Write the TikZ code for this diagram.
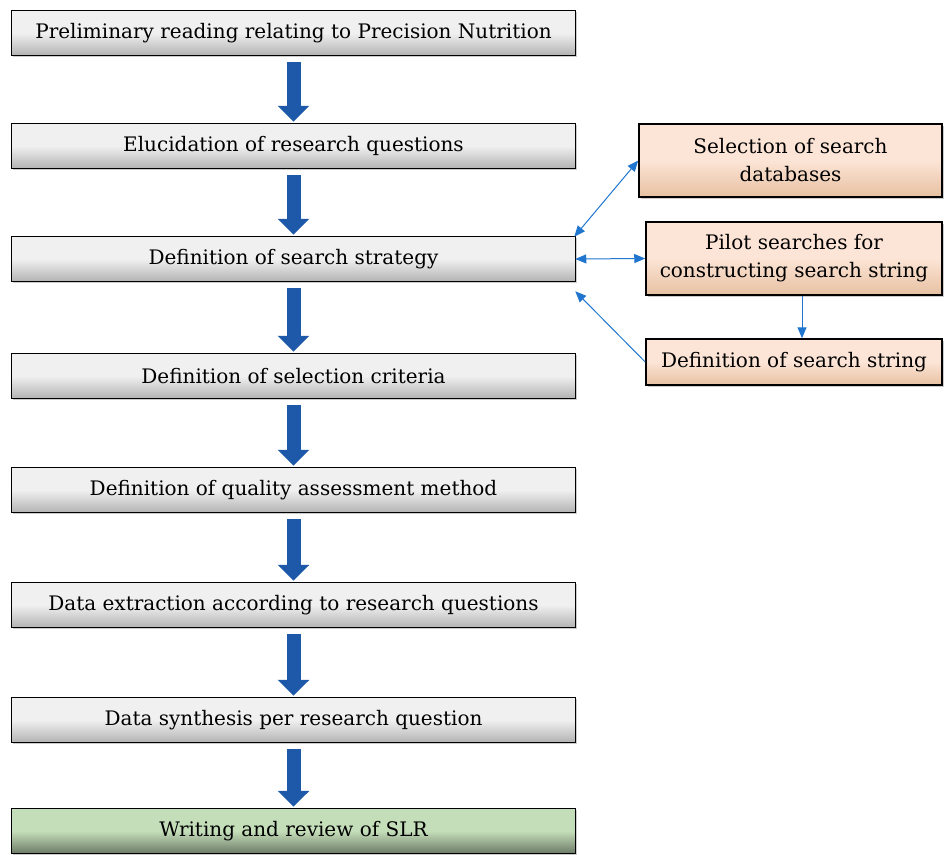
\documentclass[tikz,border=0pt]{standalone}
\usepackage{fontspec}
\setmainfont{DejaVu Serif}
\usetikzlibrary{arrows.meta,shadows}

\definecolor{flowblue}{RGB}{30,88,168}
\definecolor{linkblue}{RGB}{32,118,206}
\definecolor{stepgray}{RGB}{240,240,240}
\definecolor{sidepink}{RGB}{252,228,214}
\definecolor{endgreen}{RGB}{197,222,186}

\begin{document}
\begin{tikzpicture}[x=1pt,y=-1pt]
            \tikzstyle{every node}+=[font=\fontsize{20}{24}\selectfont]
            \tikzstyle{stepbox}=[draw=black, line width=1.5pt, minimum width=564pt, minimum height=45pt, inner sep=0pt,
                top color=stepgray, bottom color=gray!60, middle color=stepgray, drop shadow={shadow xshift=1.5pt, shadow yshift=-1.5pt, opacity=0.4}]
            \tikzstyle{sidebox}=[stepbox, top color=sidepink, bottom color=sidepink!65!brown, middle color=sidepink, align=center, font=\fontsize{20}{28}\selectfont]
            \tikzstyle{endbox}=[stepbox, top color=endgreen, bottom color=endgreen!55!black, middle color=endgreen]
            \tikzstyle{flow}=[draw=flowblue, line width=14pt, -{Triangle[width=31pt, length=16pt]}, shorten <=6pt, shorten >=1pt]
            \tikzstyle{link}=[draw=linkblue, line width=1pt, {Triangle[width=9pt, length=11pt]}-{Triangle[width=9pt, length=11pt]}]
            \useasboundingbox (0,0) rectangle (944,854);
            \node [stepbox] (prelim) at (293.5,33) {Preliminary reading relating to Precision Nutrition};
            \node [stepbox] (elucid) at (293.5,146) {Elucidation of research questions};
            \node [stepbox] (strat) at (293.5,259) {Definition of search strategy};
            \node [stepbox] (select) at (293.5,376) {Definition of selection criteria};
            \node [stepbox] (quality) at (293.5,490) {Definition of quality assessment method};
            \node [stepbox] (extract) at (293.5,605) {Data extraction according to research questions};
            \node [stepbox] (synth) at (293.5,720) {Data synthesis per research question};
            \node [endbox] (write) at (293.5,831) {Writing and review of SLR};
            \node [sidebox, minimum width=303pt, minimum height=73pt] (dbase) at (790.5,160.5) {Selection of search\\databases};
            \node [sidebox, minimum width=296pt, minimum height=73pt] (pilot) at (794,258.5) {Pilot searches for\\constructing search string};
            \node [sidebox, minimum width=296pt, minimum height=46pt] (sstring) at (794,362) {Definition of search string};
            \draw [flow] (prelim) -- (elucid);
            \draw [flow] (elucid) -- (strat);
            \draw [flow] (strat) -- (select);
            \draw [flow] (select) -- (quality);
            \draw [flow] (quality) -- (extract);
            \draw [flow] (extract) -- (synth);
            \draw [flow] (synth) -- (write);
            \draw [link] ([shift={(-2pt,-1pt)}]strat.north east) -- (dbase.west);
            \draw [link] ([xshift=-1pt]strat.east) -- (pilot.west);
            \draw [link, {Triangle[width=9pt, length=11pt]}-] ([shift={(-1pt,-9pt)}]strat.south east) -- (sstring.west);
            \draw [link, -{Triangle[width=9pt, length=11pt]}] ([xshift=8pt]pilot.south) -- ([xshift=8pt]sstring.north);
\end{tikzpicture}
\end{document}
